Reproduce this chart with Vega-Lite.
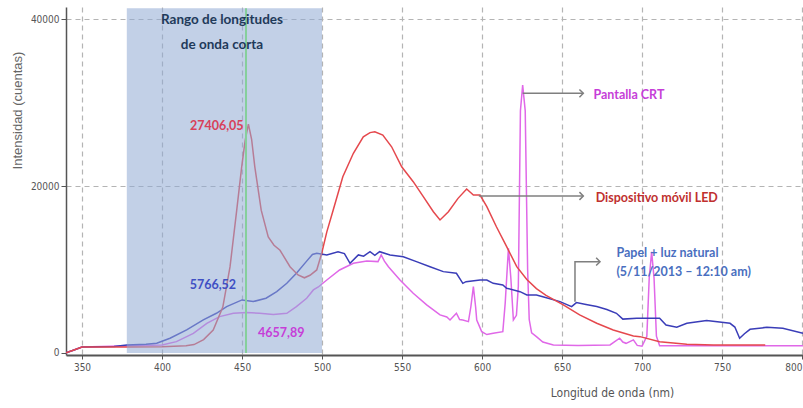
{
  "$schema": "https://vega.github.io/schema/vega-lite/v6.json",
  "autosize": {"type": "none"},
  "width": 737,
  "height": 348,
  "padding": {"left": 66, "top": 7, "right": 0, "bottom": 53},
  "background": "white",
  "config": {
    "view": {"stroke": null},
    "font": "Liberation Sans"
  },
  "datasets": {
    "spectra": [
      {"s": "CRT", "wl": 340, "v": 0}, {"s": "CRT", "wl": 345, "v": 350}, {"s": "CRT", "wl": 350, "v": 700}, {"s": "CRT", "wl": 380, "v": 850}, {"s": "CRT", "wl": 400, "v": 960}, {"s": "CRT", "wl": 409, "v": 1350}, {"s": "CRT", "wl": 419.6, "v": 2350}, {"s": "CRT", "wl": 428, "v": 3550}, {"s": "CRT", "wl": 436, "v": 4350}, {"s": "CRT", "wl": 444.6, "v": 4750}, {"s": "CRT", "wl": 453, "v": 4830}, {"s": "CRT", "wl": 461, "v": 4750}, {"s": "CRT", "wl": 469.6, "v": 4600}, {"s": "CRT", "wl": 478, "v": 4750}, {"s": "CRT", "wl": 484, "v": 5550}, {"s": "CRT", "wl": 490.4, "v": 6550}, {"s": "CRT", "wl": 494.6, "v": 7545}, {"s": "CRT", "wl": 497.7, "v": 7900}, {"s": "CRT", "wl": 503, "v": 8740}, {"s": "CRT", "wl": 511, "v": 9940}, {"s": "CRT", "wl": 519.6, "v": 10740}, {"s": "CRT", "wl": 528, "v": 11020}, {"s": "CRT", "wl": 535, "v": 10940}, {"s": "CRT", "wl": 537, "v": 11740}, {"s": "CRT", "wl": 539, "v": 11000}, {"s": "CRT", "wl": 541.5, "v": 10330}, {"s": "CRT", "wl": 548.75, "v": 8740}, {"s": "CRT", "wl": 557, "v": 7150}, {"s": "CRT", "wl": 565.4, "v": 5750}, {"s": "CRT", "wl": 573.75, "v": 4550}, {"s": "CRT", "wl": 578, "v": 4300}, {"s": "CRT", "wl": 580, "v": 3950}, {"s": "CRT", "wl": 584, "v": 4750}, {"s": "CRT", "wl": 586, "v": 4000}, {"s": "CRT", "wl": 588, "v": 3950}, {"s": "CRT", "wl": 591.5, "v": 3750}, {"s": "CRT", "wl": 593, "v": 5500}, {"s": "CRT", "wl": 594.6, "v": 7940}, {"s": "CRT", "wl": 596, "v": 5500}, {"s": "CRT", "wl": 596.7, "v": 3950}, {"s": "CRT", "wl": 599.8, "v": 2550}, {"s": "CRT", "wl": 603, "v": 2200}, {"s": "CRT", "wl": 607, "v": 2350}, {"s": "CRT", "wl": 613, "v": 2550}, {"s": "CRT", "wl": 614.5, "v": 6000}, {"s": "CRT", "wl": 616.5, "v": 12540}, {"s": "CRT", "wl": 618, "v": 9000}, {"s": "CRT", "wl": 619.6, "v": 3950}, {"s": "CRT", "wl": 621.5, "v": 4500}, {"s": "CRT", "wl": 622.7, "v": 8000}, {"s": "CRT", "wl": 624, "v": 29000}, {"s": "CRT", "wl": 625.4, "v": 32100}, {"s": "CRT", "wl": 627, "v": 29000}, {"s": "CRT", "wl": 628.5, "v": 10000}, {"s": "CRT", "wl": 629.5, "v": 4000}, {"s": "CRT", "wl": 631, "v": 2400}, {"s": "CRT", "wl": 634, "v": 1950}, {"s": "CRT", "wl": 638, "v": 1300}, {"s": "CRT", "wl": 644.6, "v": 960}, {"s": "CRT", "wl": 660, "v": 900}, {"s": "CRT", "wl": 680, "v": 950}, {"s": "CRT", "wl": 686, "v": 1760}, {"s": "CRT", "wl": 688, "v": 1300}, {"s": "CRT", "wl": 690, "v": 1150}, {"s": "CRT", "wl": 694.6, "v": 1560}, {"s": "CRT", "wl": 697, "v": 900}, {"s": "CRT", "wl": 700, "v": 800}, {"s": "CRT", "wl": 703, "v": 2000}, {"s": "CRT", "wl": 704.5, "v": 9000}, {"s": "CRT", "wl": 706, "v": 12100}, {"s": "CRT", "wl": 707.5, "v": 9000}, {"s": "CRT", "wl": 709, "v": 2000}, {"s": "CRT", "wl": 711, "v": 850}, {"s": "CRT", "wl": 800.6, "v": 850},

      {"s": "Papel", "wl": 340, "v": 0}, {"s": "Papel", "wl": 345, "v": 350}, {"s": "Papel", "wl": 350, "v": 700}, {"s": "Papel", "wl": 370, "v": 760}, {"s": "Papel", "wl": 378, "v": 960}, {"s": "Papel", "wl": 390, "v": 1050}, {"s": "Papel", "wl": 396.7, "v": 1160}, {"s": "Papel", "wl": 405, "v": 1760}, {"s": "Papel", "wl": 415.4, "v": 2750}, {"s": "Papel", "wl": 425.8, "v": 3950}, {"s": "Papel", "wl": 434, "v": 4750}, {"s": "Papel", "wl": 440.4, "v": 5550}, {"s": "Papel", "wl": 450, "v": 6350}, {"s": "Papel", "wl": 457, "v": 6150}, {"s": "Papel", "wl": 465, "v": 6550}, {"s": "Papel", "wl": 471.7, "v": 7340}, {"s": "Papel", "wl": 478, "v": 8340}, {"s": "Papel", "wl": 484, "v": 9540}, {"s": "Papel", "wl": 490.4, "v": 11000}, {"s": "Papel", "wl": 494, "v": 11800}, {"s": "Papel", "wl": 496.7, "v": 11940}, {"s": "Papel", "wl": 503, "v": 11740}, {"s": "Papel", "wl": 510, "v": 12130}, {"s": "Papel", "wl": 514, "v": 11900}, {"s": "Papel", "wl": 517.5, "v": 10740}, {"s": "Papel", "wl": 522.7, "v": 11740}, {"s": "Papel", "wl": 526, "v": 11600}, {"s": "Papel", "wl": 530, "v": 12130}, {"s": "Papel", "wl": 533, "v": 11700}, {"s": "Papel", "wl": 536, "v": 12130}, {"s": "Papel", "wl": 542.5, "v": 11740}, {"s": "Papel", "wl": 550.8, "v": 11530}, {"s": "Papel", "wl": 559, "v": 10940}, {"s": "Papel", "wl": 567.5, "v": 10330}, {"s": "Papel", "wl": 575.8, "v": 9740}, {"s": "Papel", "wl": 584, "v": 9540}, {"s": "Papel", "wl": 588, "v": 8340}, {"s": "Papel", "wl": 590, "v": 8540}, {"s": "Papel", "wl": 598.75, "v": 8740}, {"s": "Papel", "wl": 603, "v": 8740}, {"s": "Papel", "wl": 607, "v": 8340}, {"s": "Papel", "wl": 613, "v": 8140}, {"s": "Papel", "wl": 615.4, "v": 7750}, {"s": "Papel", "wl": 623.75, "v": 7340}, {"s": "Papel", "wl": 628, "v": 6950}, {"s": "Papel", "wl": 634, "v": 6950}, {"s": "Papel", "wl": 638, "v": 6740}, {"s": "Papel", "wl": 648.75, "v": 6150}, {"s": "Papel", "wl": 656, "v": 5550}, {"s": "Papel", "wl": 659, "v": 6030}, {"s": "Papel", "wl": 665, "v": 5800}, {"s": "Papel", "wl": 671.7, "v": 5550}, {"s": "Papel", "wl": 678, "v": 5200}, {"s": "Papel", "wl": 684, "v": 4750}, {"s": "Papel", "wl": 688, "v": 4050}, {"s": "Papel", "wl": 696.7, "v": 4150}, {"s": "Papel", "wl": 711, "v": 4150}, {"s": "Papel", "wl": 715, "v": 3350}, {"s": "Papel", "wl": 721.7, "v": 3070}, {"s": "Papel", "wl": 728, "v": 3550}, {"s": "Papel", "wl": 740.4, "v": 3870}, {"s": "Papel", "wl": 755, "v": 3550}, {"s": "Papel", "wl": 758, "v": 3100}, {"s": "Papel", "wl": 761, "v": 1760}, {"s": "Papel", "wl": 764, "v": 2300}, {"s": "Papel", "wl": 767.5, "v": 2830}, {"s": "Papel", "wl": 778, "v": 3070}, {"s": "Papel", "wl": 788, "v": 2950}, {"s": "Papel", "wl": 800.6, "v": 2350},

      {"s": "LED", "wl": 340, "v": 0}, {"s": "LED", "wl": 345, "v": 350}, {"s": "LED", "wl": 350, "v": 700}, {"s": "LED", "wl": 380, "v": 720}, {"s": "LED", "wl": 400, "v": 750}, {"s": "LED", "wl": 415, "v": 850}, {"s": "LED", "wl": 420, "v": 1000}, {"s": "LED", "wl": 426, "v": 1600}, {"s": "LED", "wl": 432, "v": 2750}, {"s": "LED", "wl": 438, "v": 5500}, {"s": "LED", "wl": 442.5, "v": 10300}, {"s": "LED", "wl": 446.7, "v": 17100}, {"s": "LED", "wl": 449.8, "v": 22300}, {"s": "LED", "wl": 452, "v": 25500}, {"s": "LED", "wl": 454, "v": 27406}, {"s": "LED", "wl": 456, "v": 25600}, {"s": "LED", "wl": 458, "v": 22300}, {"s": "LED", "wl": 462, "v": 17100}, {"s": "LED", "wl": 466.4, "v": 13900}, {"s": "LED", "wl": 470, "v": 12900}, {"s": "LED", "wl": 473.75, "v": 12300}, {"s": "LED", "wl": 480, "v": 10330}, {"s": "LED", "wl": 485, "v": 9340}, {"s": "LED", "wl": 489, "v": 9000}, {"s": "LED", "wl": 492.5, "v": 9300}, {"s": "LED", "wl": 496.7, "v": 9940}, {"s": "LED", "wl": 499.8, "v": 11940}, {"s": "LED", "wl": 503, "v": 14500}, {"s": "LED", "wl": 507, "v": 17125}, {"s": "LED", "wl": 513, "v": 21110}, {"s": "LED", "wl": 519.6, "v": 23920}, {"s": "LED", "wl": 525.8, "v": 25900}, {"s": "LED", "wl": 530, "v": 26400}, {"s": "LED", "wl": 533, "v": 26500}, {"s": "LED", "wl": 538, "v": 26100}, {"s": "LED", "wl": 543.5, "v": 24700}, {"s": "LED", "wl": 549.8, "v": 22310}, {"s": "LED", "wl": 557, "v": 20520}, {"s": "LED", "wl": 563.3, "v": 18720}, {"s": "LED", "wl": 569.6, "v": 16920}, {"s": "LED", "wl": 573.75, "v": 15930}, {"s": "LED", "wl": 579, "v": 16920}, {"s": "LED", "wl": 585, "v": 18520}, {"s": "LED", "wl": 590.4, "v": 19640}, {"s": "LED", "wl": 594.6, "v": 18920}, {"s": "LED", "wl": 598.75, "v": 18920}, {"s": "LED", "wl": 603, "v": 17520}, {"s": "LED", "wl": 609, "v": 15120}, {"s": "LED", "wl": 615.4, "v": 12730}, {"s": "LED", "wl": 621.7, "v": 10330}, {"s": "LED", "wl": 628, "v": 8800}, {"s": "LED", "wl": 634, "v": 7700}, {"s": "LED", "wl": 640, "v": 6900}, {"s": "LED", "wl": 650.8, "v": 5750}, {"s": "LED", "wl": 661, "v": 4550}, {"s": "LED", "wl": 671.7, "v": 3550}, {"s": "LED", "wl": 682, "v": 2750}, {"s": "LED", "wl": 694.6, "v": 2040}, {"s": "LED", "wl": 698.75, "v": 1950}, {"s": "LED", "wl": 711, "v": 1350}, {"s": "LED", "wl": 728, "v": 1030}, {"s": "LED", "wl": 744.6, "v": 960}, {"s": "LED", "wl": 760, "v": 950}, {"s": "LED", "wl": 777, "v": 950}
    ],
    "band": [{"wl": 378, "wl2": 500, "v": 0, "v2": 41300}],
    "green": [{"wl": 452.5, "v": 0, "v2": 41300}],
    "arrows": [
      {"a": "crt", "k": 1, "wl": 625.4, "v": 31110}, {"a": "crt", "k": 2, "wl": 663.3, "v": 31110},
      {"a": "led", "k": 1, "wl": 598, "v": 18800}, {"a": "led", "k": 2, "wl": 663.3, "v": 18800},
      {"a": "pap", "k": 1, "wl": 658.1, "v": 6135}, {"a": "pap", "k": 2, "wl": 658.1, "v": 10929}, {"a": "pap", "k": 3, "wl": 673.75, "v": 10929}
    ],
    "heads": [
      {"wl": 663.3, "v": 31110}, {"wl": 663.3, "v": 18800}, {"wl": 673.75, "v": 10929}
    ],
    "texts": [
      {"t": "Rango de longitudes", "c": "rango", "wl": 437.5, "v": 39890, "al": "center"},
      {"t": "de onda corta", "c": "rango", "wl": 437.5, "v": 36896, "al": "center"},
      {"t": "27406,05", "c": "led", "wl": 451, "v": 27190, "al": "right"},
      {"t": "5766,52", "c": "pap", "wl": 446.3, "v": 8137, "al": "right"},
      {"t": "4657,89", "c": "crt", "wl": 460, "v": 2385, "al": "left"},
      {"t": "Pantalla CRT", "c": "crt", "wl": 669.6, "v": 30905, "al": "left"},
      {"t": "Dispositivo móvil LED", "c": "ledlab", "wl": 671, "v": 18526, "al": "left"},
      {"t": "Papel + luz natural", "c": "paplab", "wl": 684, "v": 11970, "al": "left"},
      {"t": "(5/11/2013 – 12:10 am)", "c": "paplab", "wl": 684, "v": 9720, "al": "left"}
    ]
  },
  "encoding": {
    "x": {
      "field": "wl", "type": "quantitative",
      "scale": {"domain": [340, 800.6], "nice": false, "zero": false},
      "axis": {
        "values": [350, 400, 450, 500, 550, 600, 650, 700, 750, 800],
        "title": "Longitud de onda (nm)",
        "titleX": 546, "titleY": 37, "titleAlign": "center", "titleBaseline": "middle",
        "titleFont": "Liberation Sans Narrow, DejaVu Sans Condensed, Liberation Sans",
        "titleFontSize": 12, "titleFontWeight": "normal", "titleColor": "#555555",
        "labelFont": "Liberation Sans Narrow, DejaVu Sans Condensed, Liberation Sans",
        "labelFontSize": 10, "labelColor": "#555555", "labelPadding": 3,
        "domainColor": "#555555", "domainWidth": 2,
        "tickColor": "#555555", "tickSize": 4,
        "grid": true, "gridColor": "#b4b4b4", "gridDash": [5, 4], "gridWidth": 1.2
      }
    },
    "y": {
      "field": "v", "type": "quantitative",
      "scale": {"domain": [-250, 41450], "nice": false, "zero": false},
      "axis": {
        "values": [0, 20000, 40000],
        "format": "d",
        "title": "Intensidad (cuentas)",
        "titleX": -49, "titleY": 103, "titleAngle": -90, "titleAlign": "center", "titleBaseline": "middle",
        "titleFont": "Liberation Sans", "titleFontSize": 13, "titleFontWeight": "normal", "titleColor": "#666666",
        "labelFont": "Liberation Sans Narrow, DejaVu Sans Condensed, Liberation Sans",
        "labelFontSize": 10, "labelColor": "#555555", "labelPadding": 2,
        "domainColor": "#555555", "domainWidth": 1.5,
        "tickColor": "#555555", "tickSize": 5,
        "grid": true, "gridColor": "#b4b4b4", "gridDash": [5, 4], "gridWidth": 1.2,
        "gridOpacity": {"condition": {"test": "datum.value === 0", "value": 0}, "value": 1}
      }
    }
  },
  "layer": [
    {
      "data": {"name": "spectra"},
      "mark": {"type": "line", "strokeWidth": 1.5, "clip": true},
      "encoding": {
        "color": {
          "field": "s", "type": "nominal", "legend": null,
          "scale": {"domain": ["CRT", "Papel", "LED"], "range": ["#e068e8", "#3a3db8", "#e5484d"]}
        }
      }
    },
    {
      "data": {"name": "band"},
      "mark": {"type": "rect", "color": "#8fa9d4", "opacity": 0.55},
      "encoding": {"x2": {"field": "wl2"}, "y2": {"field": "v2"}}
    },
    {
      "data": {"name": "green"},
      "mark": {"type": "rule", "color": "#86cf9c", "strokeWidth": 2},
      "encoding": {"y2": {"field": "v2"}}
    },
    {
      "data": {"name": "arrows"},
      "mark": {"type": "line", "color": "#7f7f7f", "strokeWidth": 1.5},
      "encoding": {"detail": {"field": "a"}, "order": {"field": "k"}}
    },
    {
      "data": {"name": "heads"},
      "mark": {"type": "point", "shape": "M-1,-1L0,0L-1,1", "filled": false, "size": 60, "color": "#7f7f7f", "strokeWidth": 1.5, "opacity": 1},
      "encoding": {}
    },
    {
      "data": {"name": "texts"},
      "transform": [{"filter": "datum.al === 'center'"}],
      "mark": {"type": "text", "font": "Lato", "fontWeight": "bold", "fontSize": 13.5, "baseline": "middle", "align": "center"},
      "encoding": {
        "text": {"field": "t"},
        "color": {"field": "c", "type": "nominal", "legend": null, "scale": {"domain": ["rango", "led", "pap", "crt", "ledlab", "paplab"], "range": ["#1f3a5a", "#d8405a", "#3f4fc4", "#c63ed8", "#c0302f", "#4a6fc0"]}}
      }
    },
    {
      "data": {"name": "texts"},
      "transform": [{"filter": "datum.al === 'right'"}],
      "mark": {"type": "text", "font": "Lato", "fontWeight": "bold", "fontSize": 12.5, "baseline": "middle", "align": "right"},
      "encoding": {
        "text": {"field": "t"},
        "color": {"field": "c", "type": "nominal", "legend": null, "scale": {"domain": ["rango", "led", "pap", "crt", "ledlab", "paplab"], "range": ["#1f3a5a", "#d8405a", "#3f4fc4", "#c63ed8", "#c0302f", "#4a6fc0"]}}
      }
    },
    {
      "data": {"name": "texts"},
      "transform": [{"filter": "datum.al === 'left'"}],
      "mark": {"type": "text", "font": "Lato", "fontWeight": "bold", "fontSize": 12.5, "baseline": "middle", "align": "left"},
      "encoding": {
        "text": {"field": "t"},
        "color": {"field": "c", "type": "nominal", "legend": null, "scale": {"domain": ["rango", "led", "pap", "crt", "ledlab", "paplab"], "range": ["#1f3a5a", "#d8405a", "#3f4fc4", "#c63ed8", "#c0302f", "#4a6fc0"]}}
      }
    }
  ],
  "resolve": {"scale": {"color": "independent"}}
}
